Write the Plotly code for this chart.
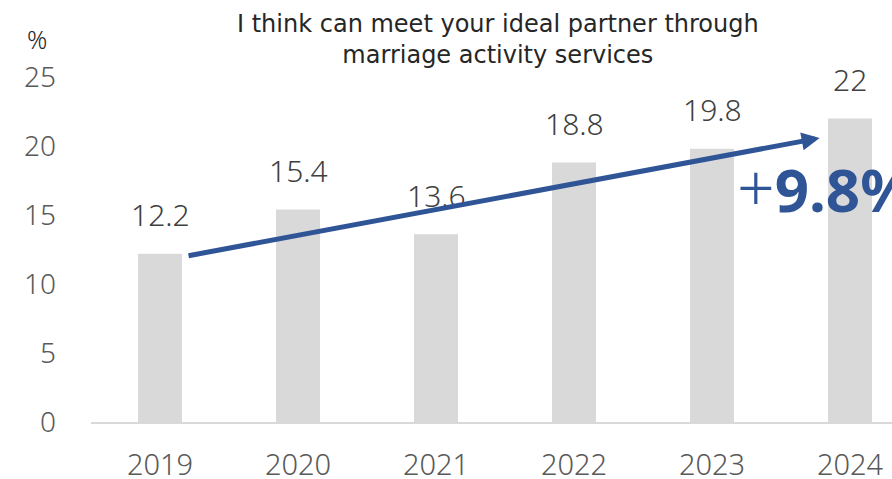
import plotly.graph_objects as go

years = ["2019", "2020", "2021", "2022", "2023", "2024"]
values = [12.2, 15.4, 13.6, 18.8, 19.8, 22]
y_ticks = [0, 5, 10, 15, 20, 25]
title_text = "I think can meet your ideal partner through<br>marriage activity services"
unit_text = "%"
change_text = "<span style='font-size:66px'>+</span><b>9.8%</b>"

FONT = "Noto Sans"
W, H = 892, 479
L, R, T, B = 91, 0, 77, 57
plot_w = W - L - R
plot_h = H - T - B
cat_px = 138.0

fig = go.Figure()
fig.add_trace(go.Bar(
    x=list(range(len(years))), y=values,
    marker=dict(color="#d9d9d9", line=dict(width=0)),
    width=44 / cat_px,
    hoverinfo="skip",
))

# data labels
for i, v in enumerate(values):
    fig.add_annotation(x=i, y=v, xref="x", yref="y", text=f"{v:g}",
                       showarrow=False, yanchor="middle", yshift=39,
                       font=dict(family=FONT, size=30, color="#404040", weight=300))

# title
fig.add_annotation(xref="paper", yref="paper", x=(498 - L) / plot_w, y=1 + (77 - 39) / plot_h,
                   text=title_text, showarrow=False, xanchor="center", yanchor="middle",
                   align="center", font=dict(family="DejaVu Sans", size=24, color="#262626"))
# unit
fig.add_annotation(xref="paper", yref="paper", x=(25 - L) / plot_w, y=1 + (77 - 39) / plot_h,
                   text=unit_text, showarrow=False, xanchor="left", yanchor="middle",
                   font=dict(family=FONT, size=25, color="#262626", weight=300))

# trend arrow
fig.add_annotation(x=4.78, y=20.58, ax=0.196, ay=12.03, xref="x", yref="y",
                   axref="x", ayref="y", text="", showarrow=True,
                   arrowhead=2, arrowsize=0.72, arrowwidth=5, arrowcolor="#2F5597")

# change label
fig.add_annotation(xref="paper", yref="paper", x=(735 - L) / plot_w, y=(422 - 186) / plot_h,
                   text=change_text, showarrow=False, xanchor="left", yanchor="middle",
                   font=dict(family=FONT, size=60, color="#2F5597", weight=300))

fig.update_layout(
    width=W, height=H,
    margin=dict(l=L, r=R, t=T, b=B, pad=0, autoexpand=False),
    plot_bgcolor="white", paper_bgcolor="white",
    showlegend=False,
    xaxis=dict(
        range=[-0.5, -0.5 + plot_w / cat_px], automargin=False,
        tickmode="array", tickvals=list(range(len(years))), ticktext=years,
        showgrid=False, zeroline=False, showline=True, linecolor="#d9d9d9", linewidth=2,
        ticks="", ticklabelstandoff=16,
        tickfont=dict(family=FONT, size=29, color="#595959", weight=300),
    ),
    yaxis=dict(
        range=[0, 25], tickmode="array", tickvals=y_ticks, automargin=False,
        showgrid=False, zeroline=False, showline=False, ticks="",
        ticklabelstandoff=34,
        tickfont=dict(family=FONT, size=28, color="#595959", weight=300),
    ),
)

fig.write_html("out.html", config={"displayModeBar": False},
               post_script="document.body.style.margin='0';document.body.style.overflow='hidden';")
